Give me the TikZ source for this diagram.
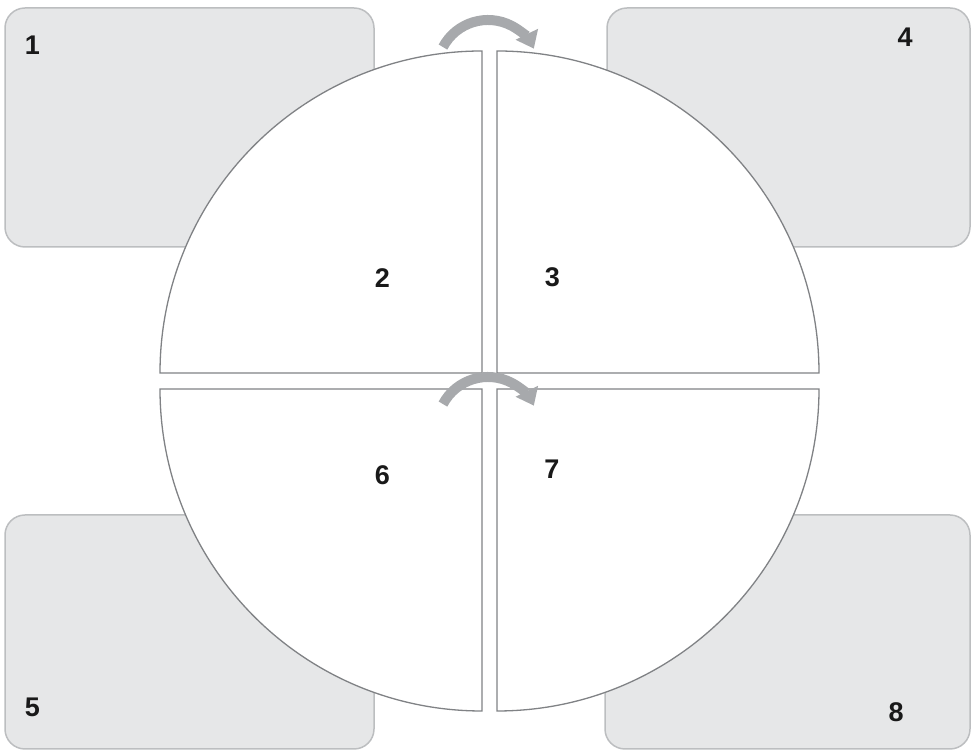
\documentclass[tikz,border=0pt]{standalone}
\usepackage{fontspec}
\setmainfont{Liberation Sans}
\usetikzlibrary{arrows.meta,calc}
\definecolor{boxfill}{HTML}{E6E7E8}
\definecolor{boxline}{HTML}{BCBEC0}
\definecolor{quadline}{HTML}{808285}
\definecolor{arrowgray}{HTML}{A7A9AC}
\tikzset{
  cornerbox/.style={fill=boxfill, draw=boxline, line width=1.5pt, rounded corners=20pt},
  quad/.style={fill=white, draw=quadline, line width=1.3pt, line join=miter},
  turnarrow/.style={draw=arrowgray, line width=10pt, line cap=butt,
    -{Triangle[width=24pt,length=16pt]}},
  numlabel/.style={font=\fontsize{27}{27}\selectfont\bfseries, text=black!90, inner sep=0pt}
}
\begin{document}
\begin{tikzpicture}[x=1pt,y=1pt]
\useasboundingbox (0,0) rectangle (972,751);
% corner boxes
\draw[cornerbox] (5,504) rectangle (374,743);
\draw[cornerbox] (607,504) rectangle (970,743);
\draw[cornerbox] (5,2) rectangle (374,236);
\draw[cornerbox] (605,2) rectangle (970,236);
% quadrants
\draw[quad] (482,378) -- (160,378) arc[start angle=180, end angle=90, radius=322] -- cycle;
\draw[quad] (497,378) -- (819,378) arc[start angle=0, end angle=90, radius=322] -- cycle;
\draw[quad] (482,362) -- (160,362) arc[start angle=180, end angle=270, radius=322] -- cycle;
\draw[quad] (497,362) -- (819,362) arc[start angle=0, end angle=-90, radius=322] -- cycle;
% arrows
\coordinate (c1) at (488,680);
\coordinate (c2) at (488,323);
\draw[turnarrow] ($(c1)+(152:51)$) arc[start angle=152, end angle=26, radius=51];
\draw[turnarrow] ($(c2)+(152:51)$) arc[start angle=152, end angle=26, radius=51];
% labels
\node[numlabel] (n1) at (32.5,705.5) {1};
\node[numlabel] (n2) at (382.5,473) {2};
\node[numlabel] (n3) at (552.5,474) {3};
\node[numlabel] (n4) at (905,713.5) {4};
\node[numlabel] (n5) at (32.5,44) {5};
\node[numlabel] (n6) at (382.5,276) {6};
\node[numlabel] (n7) at (552,282) {7};
\node[numlabel] (n8) at (896,38.5) {8};
\end{tikzpicture}
\end{document}
